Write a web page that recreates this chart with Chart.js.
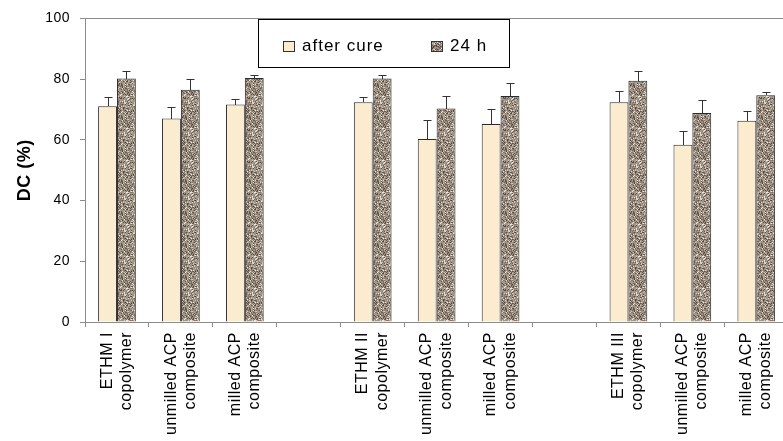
<!DOCTYPE html>
<html><head><meta charset="utf-8">
<script src="https://cdn.jsdelivr.net/npm/chart.js@4.4.0/dist/chart.umd.min.js"></script>
<style>
html,body{margin:0;padding:0;background:#fff;overflow:hidden;width:783px;height:441px}
#wrap{position:absolute;left:0;top:0;width:800px;height:441px}
canvas{display:block}
</style>
</head><body><div id="wrap"><canvas id="c" width="800" height="441"></canvas></div>
<script>
const categories = [
  ["ETHM I", "copolymer"], ["unmilled ACP", "composite"], ["milled ACP", "composite"], "",
  ["ETHM II", "copolymer"], ["unmilled ACP", "composite"], ["milled ACP", "composite"], "",
  ["ETHM III", "copolymer"], ["unmilled ACP", "composite"], ["milled ACP", "composite"]
];
const seriesNames = ["after cure", "24 h"];
const afterCure    = [71.1, 67.0, 71.6, null, 72.4, 60.3, 65.2, null, 72.4, 58.4, 66.3];
const afterCureErr = [2.9, 3.9, 1.7, null, 1.6, 6.1, 5.1, null, 3.8, 4.5, 3.2];
const h24          = [80.2, 76.5, 80.4, null, 80.2, 70.3, 74.4, null, 79.5, 68.8, 74.7];
const h24Err       = [2.4, 3.6, 1.1, null, 1.0, 4.1, 4.2, null, 3.3, 4.4, 0.9];
const yTicks = [0, 20, 40, 60, 80, 100];
const errors = [afterCureErr, h24Err];

const FONT = "'Liberation Sans', Arial, sans-serif";

// speckled texture for the "24 h" series (styling only)
function makeSpeckle() {
  const c = document.createElement('canvas');
  c.width = 32; c.height = 32;
  const g = c.getContext('2d');
  g.fillStyle = '#a39587';
  g.fillRect(0, 0, 32, 32);
  let s = 24680;
  const rnd = () => { s = (s * 1103515245 + 12345) & 0x7fffffff; return s / 0x7fffffff; };
  for (let y = 0; y < 32; y++) {
    for (let x = 0; x < 32; x++) {
      const r = rnd();
      if (r < 0.16) g.fillStyle = '#665a50';
      else if (r < 0.30) g.fillStyle = '#cdc4ba';
      else if (r < 0.44) g.fillStyle = '#85786c';
      else if (r < 0.49) g.fillStyle = '#ebe5de';
      else if (r < 0.54) g.fillStyle = '#4e433a';
      else continue;
      g.fillRect(x, y, 1, 1);
    }
  }
  return g.createPattern(c, 'repeat');
}
const speckle = makeSpeckle();
const cream = '#fbebcf';

const spacingPlugin = {
  id: 'spacing',
  beforeDraw(chart) { chart.ctx.letterSpacing = '0.5px'; }
};

const errorBarPlugin = {
  id: 'errbars',
  afterDatasetsDraw(chart) {
    const ctx = chart.ctx;
    const ys = chart.scales.y;
    ctx.save();
    ctx.strokeStyle = '#333';
    ctx.lineWidth = 1;
    chart.data.datasets.forEach((ds, i) => {
      const meta = chart.getDatasetMeta(i);
      meta.data.forEach((el, j) => {
        const v = ds.data[j];
        const e = errors[i][j];
        if (v == null || e == null) return;
        const x = Math.round(el.x) + 0.5;
        const yt = Math.round(ys.getPixelForValue(v + e)) + 0.5;
        const yb = Math.round(el.y);
        ctx.beginPath();
        ctx.moveTo(x, yb);
        ctx.lineTo(x, yt);
        ctx.moveTo(x - 4, yt);
        ctx.lineTo(x + 4, yt);
        ctx.stroke();
      });
    });
    ctx.restore();
  }
};

const framePlugin = {
  id: 'frame',
  afterDraw(chart) {
    const ctx = chart.ctx;
    const a = chart.chartArea;
    ctx.save();
    ctx.strokeStyle = '#8c8c8c';
    ctx.lineWidth = 1;
    ctx.beginPath();
    ctx.moveTo(a.left, Math.round(a.top) + 0.5);
    ctx.lineTo(a.right, Math.round(a.top) + 0.5);
    ctx.lineTo(a.right, a.bottom);
    ctx.stroke();

    // legend box
    ctx.letterSpacing = '1px';
    ctx.fillStyle = '#fff';
    ctx.fillRect(258, 19, 252, 49);
    ctx.strokeStyle = '#000';
    ctx.strokeRect(258.5, 19.5, 251, 48);
    const items = [
      { x: 283, fill: cream, label: chart.data.datasets[0].label },
      { x: 431, fill: speckle, label: chart.data.datasets[1].label }
    ];
    ctx.font = '17px ' + FONT;
    ctx.textBaseline = 'middle';
    ctx.textAlign = 'left';
    items.forEach(it => {
      ctx.fillStyle = it.fill;
      ctx.fillRect(it.x, 41, 12, 11);
      ctx.strokeStyle = '#333';
      ctx.strokeRect(it.x + 0.5, 41.5, 11, 10);
      ctx.fillStyle = '#000';
      ctx.fillText(it.label, it.x + 19, 46.5);
    });
    ctx.restore();
  }
};

new Chart(document.getElementById('c'), {
  type: 'bar',
  data: {
    labels: categories,
    datasets: [
      { label: seriesNames[0], data: afterCure, backgroundColor: cream, borderColor: '#2a2a2a', borderWidth: 1 },
      { label: seriesNames[1], data: h24, backgroundColor: speckle, borderColor: '#2a2a2a', borderWidth: 1 }
    ]
  },
  options: {
    responsive: false,
    devicePixelRatio: 1,
    animation: false,
    layout: { padding: { top: 15, right: 7, left: 0, bottom: 0 } },
    datasets: { bar: { categoryPercentage: 0.59, barPercentage: 1.0 } },
    plugins: { legend: { display: false }, tooltip: { enabled: false } },
    scales: {
      x: {
        grid: { drawOnChartArea: false, drawTicks: true, tickLength: 5, color: '#8c8c8c', offset: true },
        border: { display: true, color: '#8c8c8c' },
        ticks: {
          autoSkip: false, minRotation: 90, maxRotation: 90, padding: 5, labelOffset: -9.6,
          color: '#000', font: { family: FONT, size: 16, lineHeight: 1.2 }
        },
        afterFit(s) { s.height = 119; }
      },
      y: {
        min: 0, max: 100,
        afterBuildTicks(s) { s.ticks = yTicks.map(v => ({ value: v })); },
        grid: { drawOnChartArea: false, drawTicks: true, tickLength: 5, color: '#8c8c8c' },
        border: { display: true, color: '#8c8c8c' },
        ticks: { padding: 10, color: '#000', font: { family: FONT, size: 14 } },
        title: { display: true, text: 'DC (%)', color: '#000', padding: { top: 14, bottom: 0 },
                 font: { family: FONT, size: 18, weight: 'bold', lineHeight: 1.2 } },
        afterFit(s) { s.width = 85; }
      }
    }
  },
  plugins: [spacingPlugin, errorBarPlugin, framePlugin]
});
</script>
</body></html>
